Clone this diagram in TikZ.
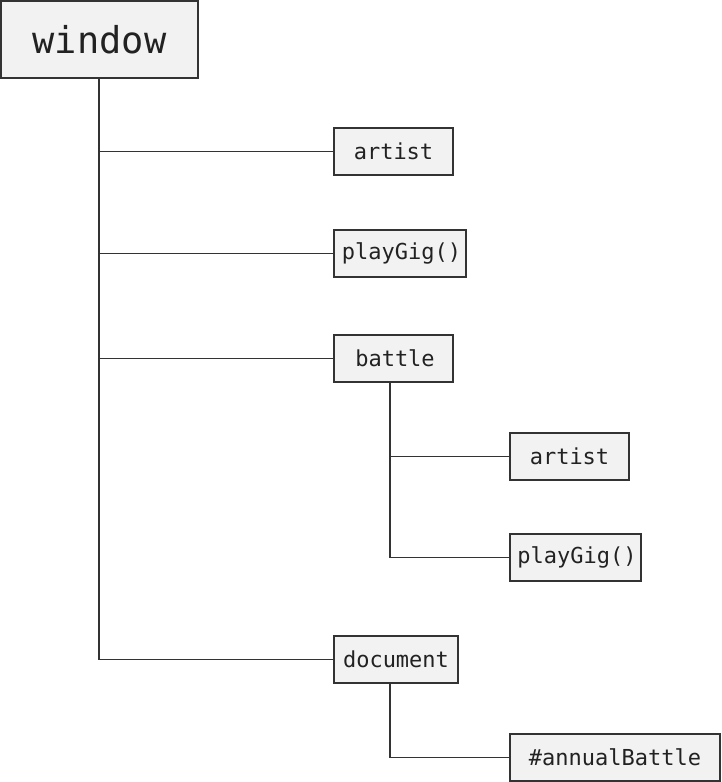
\documentclass[tikz,border=0pt]{standalone}
\usepackage{fontspec}
\setmonofont{DejaVu Sans Mono}
\definecolor{boxfill}{HTML}{F2F2F2}
\definecolor{edgec}{HTML}{333333}
\definecolor{textc}{HTML}{222222}
\begin{document}
\begin{tikzpicture}[x=1pt,y=-1pt,
  objbox/.style={draw=edgec,fill=boxfill,line width=1.2pt,inner sep=0pt,
    minimum height=47pt,text=textc,font=\ttfamily\fontsize{22}{25}\selectfont},
  link/.style={draw=edgec,line width=1.6pt}]
\useasboundingbox (0,0) rectangle (721,782);
\node[objbox,minimum width=197pt,minimum height=77pt,font=\ttfamily\fontsize{37}{42}\selectfont] (window) at (99.5,39.5) {window};
\node[objbox,minimum width=119pt] (artist) at (393.5,151.5) {artist};
\node[objbox,minimum width=132pt] (play) at (400,253.5) {\hspace{3pt}playGig()};
\node[objbox,minimum width=119pt] (battle) at (393.5,358.5) {\hspace{3pt}battle};
\node[objbox,minimum width=119pt] (artist2) at (569.5,456.5) {artist};
\node[objbox,minimum width=131pt] (play2) at (575.5,557.5) {\hspace{3pt}playGig()};
\node[objbox,minimum width=124pt] (doc) at (396,659.5) {document};
\node[objbox,minimum width=210pt] (annual) at (615,757.5) {\#annualBattle};
\coordinate (wt) at (99,78);
\coordinate (bt) at (390,382);
\coordinate (dt) at (390,683);
\draw[link] (wt) |- (artist.west);
\draw[link] (wt) |- (play.west);
\draw[link] (wt) |- (battle.west);
\draw[link] (wt) |- (doc.west);
\draw[link] (bt) |- (artist2.west);
\draw[link] (bt) |- (play2.west);
\draw[link] (dt) |- (annual.west);
\end{tikzpicture}
\end{document}
